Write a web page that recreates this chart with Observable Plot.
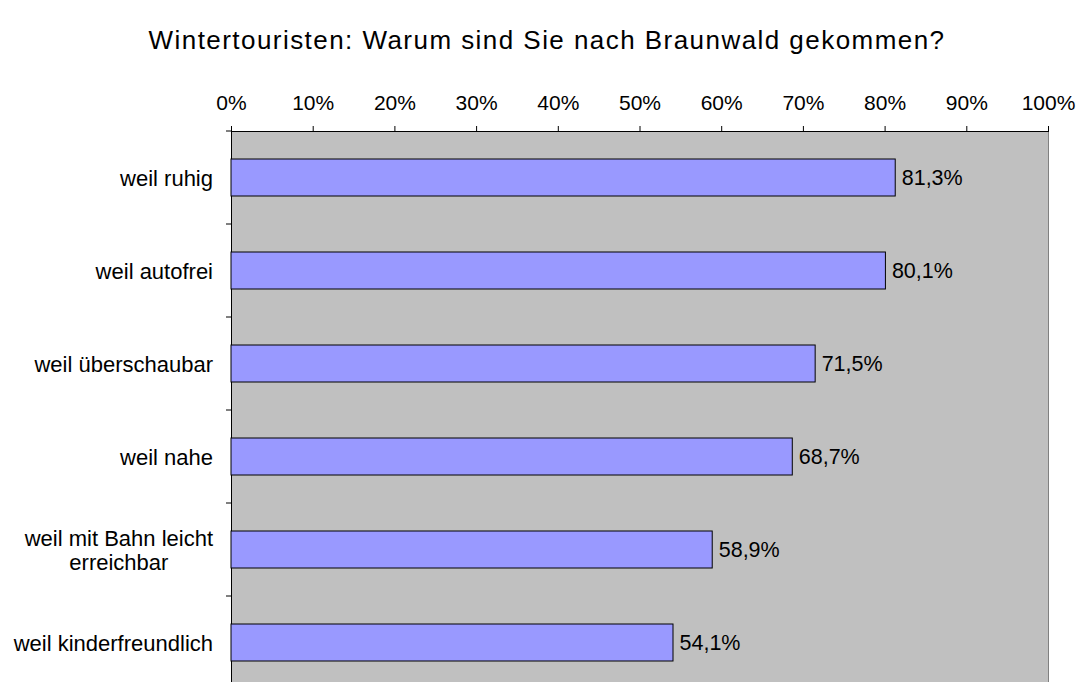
<!DOCTYPE html>
<html><head><meta charset="utf-8">
<script src="https://cdn.jsdelivr.net/npm/d3@7"></script>
<script src="https://cdn.jsdelivr.net/npm/@observablehq/plot@0.6"></script>
<style>
html,body{margin:0;padding:0;background:#fff;overflow:hidden;}
#title{height:53px;padding-top:27px;padding-left:14px;text-align:center;font-family:"Liberation Sans",Arial,sans-serif;font-size:26px;line-height:26px;color:#000;letter-spacing:1.45px;white-space:nowrap;}
#chart svg{display:block;}
</style></head><body>
<div id="title">Wintertouristen: Warum sind Sie nach Braunwald gekommen?</div>
<div id="chart"></div>
<script>
const categories = ["weil ruhig","weil autofrei","weil überschaubar","weil nahe","weil mit Bahn leicht erreichbar","weil kinderfreundlich"];
const categoryLabels = ["weil ruhig","weil autofrei","weil überschaubar","weil nahe","weil mit Bahn leicht\nerreichbar","weil kinderfreundlich"];
const values = [81.3, 80.1, 71.5, 68.7, 58.9, 54.1];
const valueLabels = ["81,3%","80,1%","71,5%","68,7%","58,9%","54,1%"];
const xTicks = [0,10,20,30,40,50,60,70,80,90,100];

const data = categories.map((c,i)=>({category:c, label:categoryLabels[i], value:values[i], valueLabel:valueLabels[i]}));

const plot = Plot.plot({
  width:1080, height:609, marginTop:51, marginLeft:231, marginRight:32, marginBottom:0,
  style:{fontFamily:"Liberation Sans, Arial, sans-serif", fontSize:"21px", color:"#000", background:"white", overflow:"visible"},
  x:{domain:[0,100]},
  y:{domain:categories, paddingInner:0.6, paddingOuter:0.3, axis:null},
  marks:[
    Plot.frame({fill:"#c0c0c0", stroke:"#000"}),
    Plot.ruleX([100], {stroke:"#808080"}),
    Plot.barX(data, {x:"value", y:"category", fill:"#9999ff", stroke:"#000", strokeWidth:1}),
    Plot.text(data, {x:"value", y:"category", text:"valueLabel", textAnchor:"start", dx:6, fontSize:21.5, fill:"#000"}),
    Plot.axisX({anchor:"top", ticks:xTicks, tickFormat:d=>d+"%", tickSize:6, tickPadding:16, fontSize:21, label:null}),
    Plot.text(data, {x:0, y:"category", text:"label", textAnchor:"middle", fontSize:22, lineHeight:1.12, fill:"#000"})
  ]
});
document.getElementById("chart").appendChild(plot);

// right-align each category label block (centered lines) to 18px left of the plot
const labelSet = new Set(categoryLabels.map(s=>s.replace("\n","")));
const svgLeft = plot.getBoundingClientRect().left;
d3.select(plot).selectAll("text").each(function(){
  const t = this.textContent;
  if (labelSet.has(t)) {
    const r = this.getBoundingClientRect();
    const shift = (231 - 18) - (r.right - svgLeft);
    this.setAttribute("transform", (this.getAttribute("transform")||"") + ` translate(${shift},0)`);
  }
});

// separator ticks on the left axis at band boundaries
const ys = plot.scale("y");
const xs = plot.scale("x");
const x0 = xs.apply(0);
const half = (ys.step - ys.bandwidth)/2;
d3.select(plot).append("g")
  .selectAll("line").data(categories).join("line")
  .attr("x1", x0-5).attr("x2", x0)
  .attr("y1", d=>ys.apply(d)-half).attr("y2", d=>ys.apply(d)-half)
  .attr("stroke","#000").attr("stroke-width",1);
</script>
</body></html>
